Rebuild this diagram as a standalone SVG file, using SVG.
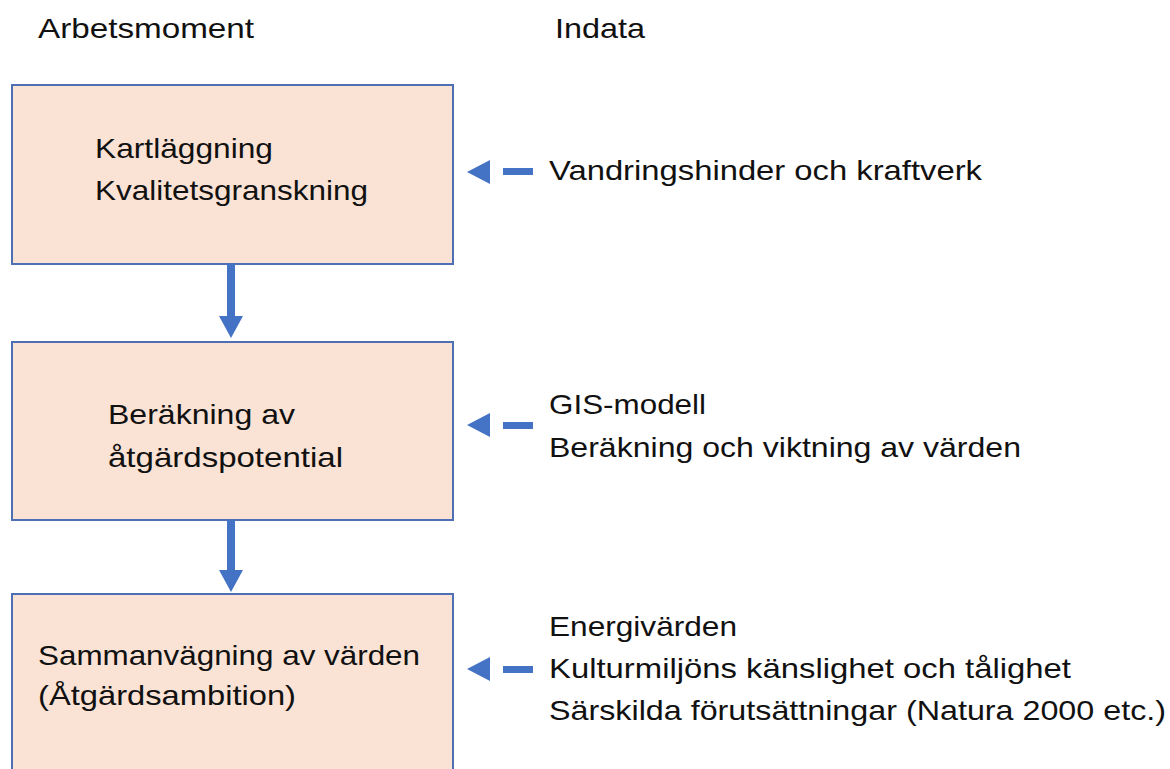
<svg xmlns="http://www.w3.org/2000/svg" width="1170" height="769" viewBox="0 0 1170 769">
<style>
.box{fill:#fae3d5;stroke:#4e6fb3;stroke-width:2}
.t{font-family:"Liberation Sans",Arial,sans-serif;font-size:28px;fill:#111}
.c{fill:#4472c4}
</style>
<defs>
<marker id="ah" markerWidth="8" markerHeight="8" refX="0" refY="0" viewBox="0 0 1 1" overflow="visible"/>
</defs>
<rect width="1170" height="769" fill="#fff"/>
<text class="t" x="38" y="38" textLength="216" lengthAdjust="spacingAndGlyphs">Arbetsmoment</text>
<text class="t" x="555" y="38" textLength="90" lengthAdjust="spacingAndGlyphs">Indata</text>
<g id="node1">
<rect class="box" x="12" y="85" width="441" height="179"/>
<text class="t" x="95" y="158" textLength="178" lengthAdjust="spacingAndGlyphs">Kartläggning</text>
<text class="t" x="95" y="200" textLength="273" lengthAdjust="spacingAndGlyphs">Kvalitetsgranskning</text>
</g>
<g id="node2">
<rect class="box" x="12" y="342" width="441" height="178"/>
<text class="t" x="108" y="424" textLength="187" lengthAdjust="spacingAndGlyphs">Beräkning av</text>
<text class="t" x="108" y="467" textLength="235" lengthAdjust="spacingAndGlyphs">åtgärdspotential</text>
</g>
<g id="node3">
<rect class="box" x="12" y="594" width="441" height="190"/>
<text class="t" x="38" y="665" textLength="382" lengthAdjust="spacingAndGlyphs">Sammanvägning av värden</text>
<text class="t" x="38" y="705" textLength="258" lengthAdjust="spacingAndGlyphs">(Åtgärdsambition)</text>
</g>
<g id="input1">
<text class="t" x="549" y="180" textLength="433" lengthAdjust="spacingAndGlyphs">Vandringshinder och kraftverk</text>
</g>
<g id="input2">
<text class="t" x="549" y="414" textLength="157" lengthAdjust="spacingAndGlyphs">GIS-modell</text>
<text class="t" x="549" y="457" textLength="472" lengthAdjust="spacingAndGlyphs">Beräkning och viktning av värden</text>
</g>
<g id="input3">
<text class="t" x="549" y="636" textLength="188" lengthAdjust="spacingAndGlyphs">Energivärden</text>
<text class="t" x="549" y="678" textLength="522" lengthAdjust="spacingAndGlyphs">Kulturmiljöns känslighet och tålighet</text>
<text class="t" x="549" y="720" textLength="617" lengthAdjust="spacingAndGlyphs">Särskilda förutsättningar (Natura 2000 etc.)</text>
</g>
<g id="connectors">
<rect class="c" x="227" y="264" width="8" height="54"/>
<polygon class="c" points="219,316 243,316 231,338"/>
<rect class="c" x="227" y="520" width="8" height="52"/>
<polygon class="c" points="219,570 243,570 231,592"/>
<polygon class="c" points="467,172 490,160 490,184"/>
<rect class="c" x="503" y="168" width="30" height="7"/>
<polygon class="c" points="467,425 490,413 490,437"/>
<rect class="c" x="503" y="422" width="30" height="7"/>
<polygon class="c" points="467,669 490,657 490,681"/>
<rect class="c" x="503" y="666" width="30" height="7"/>
</g>
</svg>
